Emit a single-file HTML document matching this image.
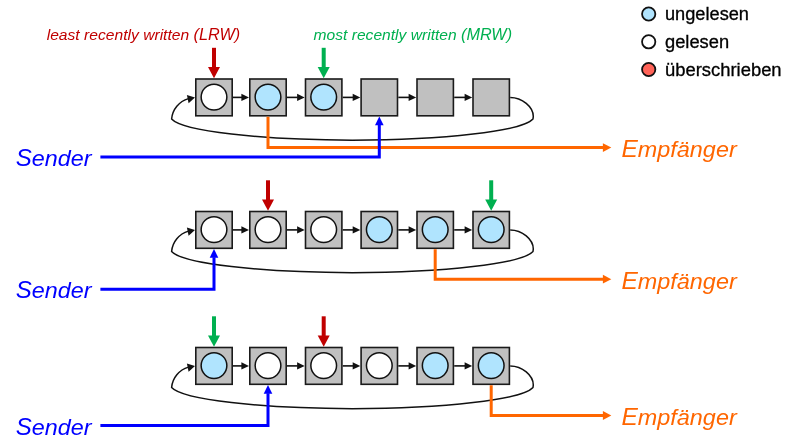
<!DOCTYPE html>
<html><head><meta charset="utf-8"><style>
html,body{margin:0;padding:0;background:#fff;}
body{width:803px;height:445px;overflow:hidden;}
svg{display:block;will-change:transform;}
text{font-family:"Liberation Sans",sans-serif;}
.big{font-size:22.9px;font-style:italic;}
.lab{font-size:15.4px;font-style:italic;}
.leg{font-size:17.5px;stroke:#000;stroke-width:0.3px;}
</style></head><body>
<svg width="803" height="445" viewBox="0 0 803 445">
<path d="M510.2,97.4 C522.2,97.4 533.3,106.9 533.3,116.4 L533,119.0 A182 24 0 0 1 171.6,119.0 C172.5,109.4 179,101.4 188.5,98.6" fill="none" stroke="#111" stroke-width="1.5" stroke-linejoin="round"/>
<polygon points="195,97.6 186.9,95 188.6,103.3" fill="#111"/>
<line x1="233" y1="97.4" x2="242" y2="97.4" stroke="#111" stroke-width="1.6"/>
<polygon points="249,97.4 241.4,93.7 241.4,101.1" fill="#111"/>
<line x1="287" y1="97.4" x2="297.7" y2="97.4" stroke="#111" stroke-width="1.6"/>
<polygon points="304.7,97.4 297.1,93.7 297.1,101.1" fill="#111"/>
<line x1="342.7" y1="97.4" x2="353.3" y2="97.4" stroke="#111" stroke-width="1.6"/>
<polygon points="360.3,97.4 352.7,93.7 352.7,101.1" fill="#111"/>
<line x1="398.3" y1="97.4" x2="409.2" y2="97.4" stroke="#111" stroke-width="1.6"/>
<polygon points="416.2,97.4 408.6,93.7 408.6,101.1" fill="#111"/>
<line x1="454.2" y1="97.4" x2="465.2" y2="97.4" stroke="#111" stroke-width="1.6"/>
<polygon points="472.2,97.4 464.6,93.7 464.6,101.1" fill="#111"/>
<rect x="195.8" y="79.0" width="36.4" height="36.8" fill="#C0C0C0" stroke="#1a1a1a" stroke-width="1.6"/>
<circle cx="214.0" cy="97.1" r="12.85" fill="#fff" stroke="#111" stroke-width="1.5"/>
<rect x="249.8" y="79.0" width="36.4" height="36.8" fill="#C0C0C0" stroke="#1a1a1a" stroke-width="1.6"/>
<circle cx="268.0" cy="97.1" r="12.85" fill="#B0E4FE" stroke="#111" stroke-width="1.5"/>
<rect x="305.5" y="79.0" width="36.4" height="36.8" fill="#C0C0C0" stroke="#1a1a1a" stroke-width="1.6"/>
<circle cx="323.7" cy="97.1" r="12.85" fill="#B0E4FE" stroke="#111" stroke-width="1.5"/>
<rect x="361.1" y="79.0" width="36.4" height="36.8" fill="#C0C0C0" stroke="#1a1a1a" stroke-width="1.6"/>
<rect x="417.0" y="79.0" width="36.4" height="36.8" fill="#C0C0C0" stroke="#1a1a1a" stroke-width="1.6"/>
<rect x="473.0" y="79.0" width="36.4" height="36.8" fill="#C0C0C0" stroke="#1a1a1a" stroke-width="1.6"/>
<rect x="212.0" y="47.8" width="4" height="20" fill="#C00000"/>
<polygon points="208.0,66.9 220.0,66.9 214.0,78.3" fill="#C00000"/>
<rect x="321.7" y="47.8" width="4" height="20" fill="#00B050"/>
<polygon points="317.7,66.9 329.7,66.9 323.7,78.3" fill="#00B050"/>
<path d="M268.0,116.7 V147.6 H604" fill="none" stroke="#FF6600" stroke-width="3"/>
<polygon points="611.3,147.6 602.9,143.2 602.9,152.0" fill="#FF6600"/>
<text x="621.5" y="157" class="big" fill="#FF6600" textLength="115.2" lengthAdjust="spacingAndGlyphs"><tspan font-size="24.0">E</tspan>mpfänger</text>
<path d="M100.4,157 H379.3 V124.7" fill="none" stroke="#0000FF" stroke-width="3"/>
<polygon points="379.3,116.5 375.0,125.2 383.6,125.2" fill="#0000FF"/>
<text x="15.8" y="165.9" class="big" fill="#0000FF" textLength="75.8" lengthAdjust="spacingAndGlyphs"><tspan font-size="23.6">S</tspan>ender</text>
<path d="M510.2,229.9 C522.2,229.9 533.3,239.4 533.3,248.9 L533,251.5 A182 24 0 0 1 171.6,251.5 C172.5,241.9 179,233.9 188.5,231.1" fill="none" stroke="#111" stroke-width="1.5" stroke-linejoin="round"/>
<polygon points="195,230.1 186.9,227.5 188.6,235.8" fill="#111"/>
<line x1="233" y1="229.9" x2="242" y2="229.9" stroke="#111" stroke-width="1.6"/>
<polygon points="249,229.9 241.4,226.2 241.4,233.6" fill="#111"/>
<line x1="287" y1="229.9" x2="297.7" y2="229.9" stroke="#111" stroke-width="1.6"/>
<polygon points="304.7,229.9 297.1,226.2 297.1,233.6" fill="#111"/>
<line x1="342.7" y1="229.9" x2="353.3" y2="229.9" stroke="#111" stroke-width="1.6"/>
<polygon points="360.3,229.9 352.7,226.2 352.7,233.6" fill="#111"/>
<line x1="398.3" y1="229.9" x2="409.2" y2="229.9" stroke="#111" stroke-width="1.6"/>
<polygon points="416.2,229.9 408.6,226.2 408.6,233.6" fill="#111"/>
<line x1="454.2" y1="229.9" x2="465.2" y2="229.9" stroke="#111" stroke-width="1.6"/>
<polygon points="472.2,229.9 464.6,226.2 464.6,233.6" fill="#111"/>
<rect x="195.8" y="211.5" width="36.4" height="36.8" fill="#C0C0C0" stroke="#1a1a1a" stroke-width="1.6"/>
<circle cx="214.0" cy="229.6" r="12.85" fill="#fff" stroke="#111" stroke-width="1.5"/>
<rect x="249.8" y="211.5" width="36.4" height="36.8" fill="#C0C0C0" stroke="#1a1a1a" stroke-width="1.6"/>
<circle cx="268.0" cy="229.6" r="12.85" fill="#fff" stroke="#111" stroke-width="1.5"/>
<rect x="305.5" y="211.5" width="36.4" height="36.8" fill="#C0C0C0" stroke="#1a1a1a" stroke-width="1.6"/>
<circle cx="323.7" cy="229.6" r="12.85" fill="#fff" stroke="#111" stroke-width="1.5"/>
<rect x="361.1" y="211.5" width="36.4" height="36.8" fill="#C0C0C0" stroke="#1a1a1a" stroke-width="1.6"/>
<circle cx="379.3" cy="229.6" r="12.85" fill="#B0E4FE" stroke="#111" stroke-width="1.5"/>
<rect x="417.0" y="211.5" width="36.4" height="36.8" fill="#C0C0C0" stroke="#1a1a1a" stroke-width="1.6"/>
<circle cx="435.2" cy="229.6" r="12.85" fill="#B0E4FE" stroke="#111" stroke-width="1.5"/>
<rect x="473.0" y="211.5" width="36.4" height="36.8" fill="#C0C0C0" stroke="#1a1a1a" stroke-width="1.6"/>
<circle cx="491.2" cy="229.6" r="12.85" fill="#B0E4FE" stroke="#111" stroke-width="1.5"/>
<rect x="266.0" y="180.3" width="4" height="20" fill="#C00000"/>
<polygon points="262.0,199.4 274.0,199.4 268.0,210.8" fill="#C00000"/>
<rect x="489.2" y="180.3" width="4" height="20" fill="#00B050"/>
<polygon points="485.2,199.4 497.2,199.4 491.2,210.8" fill="#00B050"/>
<path d="M435.2,249.2 V279.2 H604" fill="none" stroke="#FF6600" stroke-width="3"/>
<polygon points="611.3,279.2 602.9,274.8 602.9,283.6" fill="#FF6600"/>
<text x="621.5" y="288.8" class="big" fill="#FF6600" textLength="115.2" lengthAdjust="spacingAndGlyphs"><tspan font-size="24.0">E</tspan>mpfänger</text>
<path d="M100.4,289.2 H214.0 V257.2" fill="none" stroke="#0000FF" stroke-width="3"/>
<polygon points="214.0,249.0 209.7,257.7 218.3,257.7" fill="#0000FF"/>
<text x="15.8" y="297.8" class="big" fill="#0000FF" textLength="75.8" lengthAdjust="spacingAndGlyphs"><tspan font-size="23.6">S</tspan>ender</text>
<path d="M510.2,365.9 C522.2,365.9 533.3,375.4 533.3,384.9 L533,387.5 A182 24 0 0 1 171.6,387.5 C172.5,377.9 179,369.9 188.5,367.1" fill="none" stroke="#111" stroke-width="1.5" stroke-linejoin="round"/>
<polygon points="195,366.1 186.9,363.5 188.6,371.8" fill="#111"/>
<line x1="233" y1="365.9" x2="242" y2="365.9" stroke="#111" stroke-width="1.6"/>
<polygon points="249,365.9 241.4,362.2 241.4,369.6" fill="#111"/>
<line x1="287" y1="365.9" x2="297.7" y2="365.9" stroke="#111" stroke-width="1.6"/>
<polygon points="304.7,365.9 297.1,362.2 297.1,369.6" fill="#111"/>
<line x1="342.7" y1="365.9" x2="353.3" y2="365.9" stroke="#111" stroke-width="1.6"/>
<polygon points="360.3,365.9 352.7,362.2 352.7,369.6" fill="#111"/>
<line x1="398.3" y1="365.9" x2="409.2" y2="365.9" stroke="#111" stroke-width="1.6"/>
<polygon points="416.2,365.9 408.6,362.2 408.6,369.6" fill="#111"/>
<line x1="454.2" y1="365.9" x2="465.2" y2="365.9" stroke="#111" stroke-width="1.6"/>
<polygon points="472.2,365.9 464.6,362.2 464.6,369.6" fill="#111"/>
<rect x="195.8" y="347.5" width="36.4" height="36.8" fill="#C0C0C0" stroke="#1a1a1a" stroke-width="1.6"/>
<circle cx="214.0" cy="365.6" r="12.85" fill="#B0E4FE" stroke="#111" stroke-width="1.5"/>
<rect x="249.8" y="347.5" width="36.4" height="36.8" fill="#C0C0C0" stroke="#1a1a1a" stroke-width="1.6"/>
<circle cx="268.0" cy="365.6" r="12.85" fill="#fff" stroke="#111" stroke-width="1.5"/>
<rect x="305.5" y="347.5" width="36.4" height="36.8" fill="#C0C0C0" stroke="#1a1a1a" stroke-width="1.6"/>
<circle cx="323.7" cy="365.6" r="12.85" fill="#fff" stroke="#111" stroke-width="1.5"/>
<rect x="361.1" y="347.5" width="36.4" height="36.8" fill="#C0C0C0" stroke="#1a1a1a" stroke-width="1.6"/>
<circle cx="379.3" cy="365.6" r="12.85" fill="#fff" stroke="#111" stroke-width="1.5"/>
<rect x="417.0" y="347.5" width="36.4" height="36.8" fill="#C0C0C0" stroke="#1a1a1a" stroke-width="1.6"/>
<circle cx="435.2" cy="365.6" r="12.85" fill="#B0E4FE" stroke="#111" stroke-width="1.5"/>
<rect x="473.0" y="347.5" width="36.4" height="36.8" fill="#C0C0C0" stroke="#1a1a1a" stroke-width="1.6"/>
<circle cx="491.2" cy="365.6" r="12.85" fill="#B0E4FE" stroke="#111" stroke-width="1.5"/>
<rect x="321.7" y="316.3" width="4" height="20" fill="#C00000"/>
<polygon points="317.7,335.4 329.7,335.4 323.7,346.8" fill="#C00000"/>
<rect x="212.0" y="316.3" width="4" height="20" fill="#00B050"/>
<polygon points="208.0,335.4 220.0,335.4 214.0,346.8" fill="#00B050"/>
<path d="M491.2,385.2 V415.5 H604" fill="none" stroke="#FF6600" stroke-width="3"/>
<polygon points="611.3,415.5 602.9,411.1 602.9,419.9" fill="#FF6600"/>
<text x="621.5" y="424.9" class="big" fill="#FF6600" textLength="115.2" lengthAdjust="spacingAndGlyphs"><tspan font-size="24.0">E</tspan>mpfänger</text>
<path d="M100.4,425.4 H268.0 V393.2" fill="none" stroke="#0000FF" stroke-width="3"/>
<polygon points="268.0,385 263.7,393.7 272.3,393.7" fill="#0000FF"/>
<text x="15.8" y="435.2" class="big" fill="#0000FF" textLength="75.8" lengthAdjust="spacingAndGlyphs"><tspan font-size="23.6">S</tspan>ender</text>
<text x="46.7" y="40.2" class="lab" fill="#C00000" textLength="193.5" lengthAdjust="spacingAndGlyphs">least recently written <tspan font-size="16.0">(LRW)</tspan></text>
<text x="313.6" y="40.2" class="lab" fill="#00B050" textLength="198.5" lengthAdjust="spacingAndGlyphs">most recently written <tspan font-size="16.0">(MRW)</tspan></text>
<circle cx="648.7" cy="14" r="6.65" fill="#B0E4FE" stroke="#111" stroke-width="1.8"/>
<text x="665.0" y="20" class="leg" fill="#000" textLength="84.0" lengthAdjust="spacingAndGlyphs">ungelesen</text>
<circle cx="648.7" cy="41.8" r="6.65" fill="#fff" stroke="#111" stroke-width="1.8"/>
<text x="665.0" y="47.8" class="leg" fill="#000" textLength="64.1" lengthAdjust="spacingAndGlyphs">gelesen</text>
<circle cx="648.7" cy="69.5" r="6.65" fill="#FF6358" stroke="#111" stroke-width="1.8"/>
<text x="665.0" y="75.7" class="leg" fill="#000" textLength="116.6" lengthAdjust="spacingAndGlyphs">überschrieben</text>
</svg>
</body></html>
